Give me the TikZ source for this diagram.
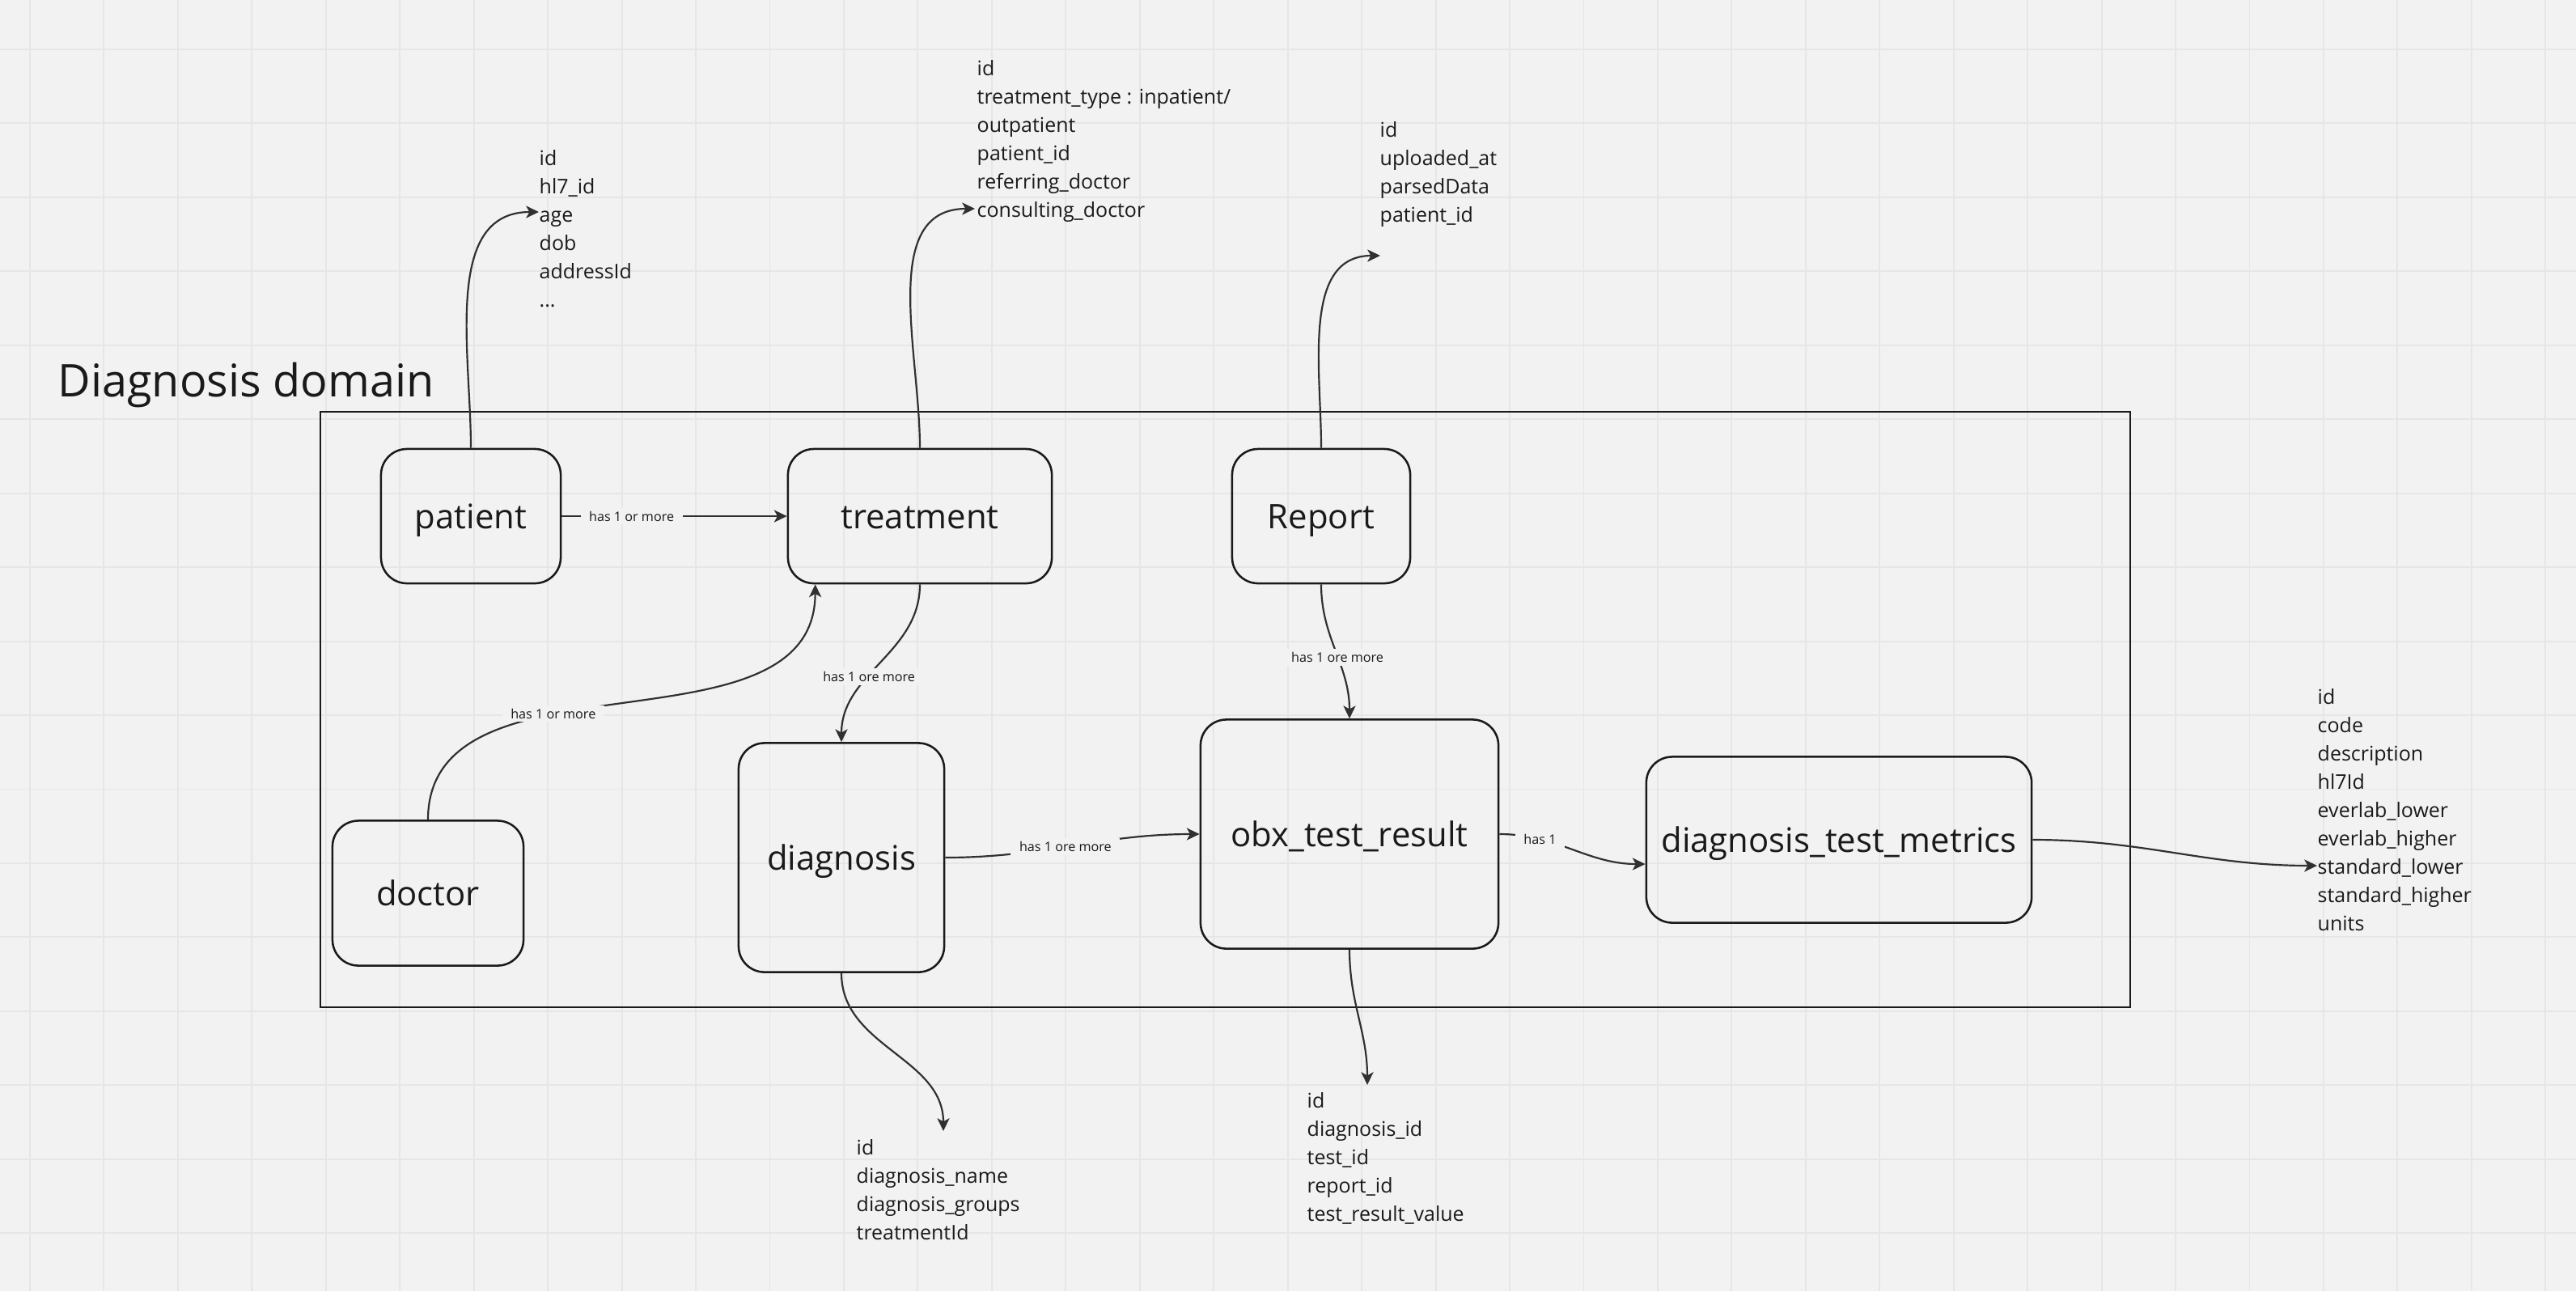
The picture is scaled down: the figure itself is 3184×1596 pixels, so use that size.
\documentclass[tikz,border=0pt]{standalone}
\usepackage{fontspec}
\setmainfont{Open Sans}
\usetikzlibrary{arrows.meta}

\definecolor{canvas}{HTML}{F2F2F2}
\definecolor{gridgray}{HTML}{E6E6E6}
\definecolor{ink}{HTML}{1A1A1A}
\definecolor{wire}{HTML}{303030}

\begin{document}
\begin{tikzpicture}[x=0.01cm,y=-0.01cm,>={Stealth[length=4.5pt,width=4.3pt,inset=1.2pt]}]
    \tikzstyle{entity}=[draw=ink,line width=0.72pt,rounded corners=0.32cm,text=ink,inner sep=0pt,text height=0.9em,text depth=0pt,font=\fontsize{11.9}{14}\selectfont]
    \tikzstyle{link}=[->,draw=wire,line width=0.62pt]
    \tikzstyle{tag}=[fill=canvas,text=ink,inner xsep=3pt,inner ysep=1.2pt,font=\fontsize{4.6}{5.5}\selectfont]
    \tikzstyle{fields}=[anchor=north west,align=left,text=ink,inner sep=0pt,font=\fontsize{7.1}{9.96}\selectfont]

    \useasboundingbox (0,0) rectangle (3184,1596);
    \fill[canvas] (0,0) rectangle (3184,1596);

    % Draw the grid
    \foreach \gx in {0,...,34}
        \draw[draw=gridgray,line width=0.55pt] ({37+91.45*\gx},0) -- ({37+91.45*\gx},1596);
    \foreach \gy in {0,...,16}
        \draw[draw=gridgray,line width=0.55pt] (0,{61+91.45*\gy}) -- (3184,{61+91.45*\gy});

    % Draw the domain frame and its title
    \draw[draw=ink,line width=0.65pt] (396,509) rectangle (2633,1245);
    \node[anchor=base west,text=ink,inner sep=0pt,font=\fontsize{15.85}{18}\selectfont] (title) at (71,490) {Diagnosis domain};

    % Draw the entities
    \node[entity,minimum width=2.22cm,minimum height=1.66cm] (patient) at (582,638) {patient};
    \node[entity,minimum width=3.26cm,minimum height=1.66cm] (treatment) at (1137,638) {treatment};
    \node[entity,minimum width=2.20cm,minimum height=1.66cm] (report) at (1633,638) {Report};
    \node[entity,minimum width=2.36cm,minimum height=1.79cm] (doctor) at (529,1104) {doctor};
    \node[entity,minimum width=2.54cm,minimum height=2.83cm] (diagnosis) at (1040,1060) {diagnosis};
    \node[entity,minimum width=3.68cm,minimum height=2.83cm] (obx) at (1668,1031) {obx\_test\_result};
    \node[entity,minimum width=4.76cm,minimum height=2.05cm] (metrics) at (2273,1038) {diagnosis\_test\_metrics};

    % Draw the relations between the entities
    \draw[link] (patient) -- node[tag,pos=0.31] (l-pt) {has 1 or more} (treatment);
    \draw[link] (doctor.north) to[out=90,in=-90] node[tag,pos=0.38] (l-dt) {has 1 or more} ([xshift=0.35cm]treatment.south west);
    \draw[link] (treatment.south) to[out=-90,in=90] node[tag,pos=0.6] (l-td) {has 1 ore more} (diagnosis.north);
    \draw[link] (report.south) to[out=-90,in=90] node[tag,pos=0.55] (l-ro) {has 1 ore more} (obx.north);
    \draw[link] (diagnosis.east) to[out=0,in=180] node[tag,pos=0.47] (l-do) {has 1 ore more} (obx.west);
    \draw[link] (obx.east) to[out=0,in=180] node[tag,pos=0.26] (l-om) {has 1} ([yshift=-0.3cm]metrics.west);

    % Draw the field lists
    \node[fields] (patient-fields) at (666,185) {id\\hl7\_id\\age\\dob\\addressId\\...};
    \node[fields] (treatment-fields) at (1207,74) {id\\treatment\_type : inpatient/\\outpatient\\patient\_id\\referring\_doctor\\consulting\_doctor};
    \node[fields] (report-fields) at (1705,150) {id\\uploaded\_at\\parsedData\\patient\_id};
    \node[fields] (diagnosis-fields) at (1058,1408) {id\\diagnosis\_name\\diagnosis\_groups\\treatmentId};
    \node[fields] (obx-fields) at (1615,1350) {id\\diagnosis\_id\\test\_id\\report\_id\\test\_result\_value};
    \node[fields] (metrics-fields) at (2864,851) {id\\code\\description\\hl7Id\\everlab\_lower\\everlab\_higher\\standard\_lower\\standard\_higher\\units};

    \coordinate (patient-tip) at (666,262);
    \coordinate (treatment-tip) at (1205,258);
    \coordinate (report-tip) at (1706,316);
    \coordinate (diagnosis-tip) at (1166,1398);
    \coordinate (obx-tip) at (1690,1341);
    \coordinate (metrics-tip) at (2864,1070);

    % Point each entity at its fields
    \foreach \src / \side / \dout / \din in {patient/north/90/180, treatment/north/90/180, report/north/90/180, diagnosis/south/-90/90, obx/south/-90/90, metrics/east/0/180}
        \draw[link] (\src.\side) to[out=\dout,in=\din] (\src-tip);
\end{tikzpicture}
\end{document}
